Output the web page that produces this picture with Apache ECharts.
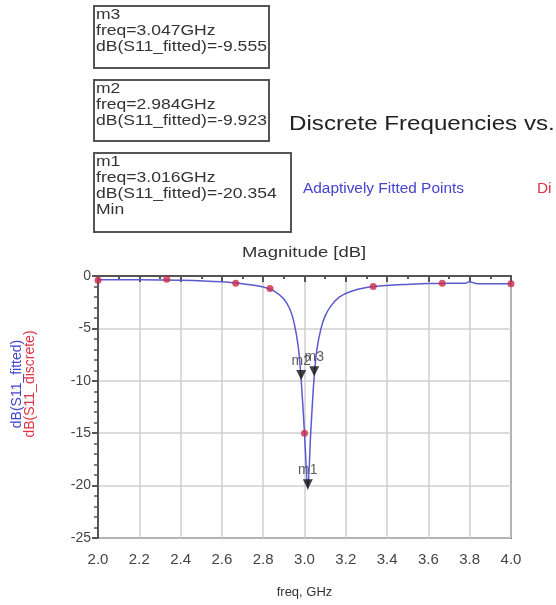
<!DOCTYPE html>
<html>
<head>
<meta charset="utf-8">
<script src="https://cdn.jsdelivr.net/npm/echarts@6/dist/echarts.min.js"></script>
<style>html,body{margin:0;padding:0;background:#fff;}#c{width:556px;height:605px;}</style>
</head>
<body>
<div id="c"></div>
<script>
// Adaptively fitted S11 curve (freq GHz, dB)
const fittedFreq = [2.0, 2.2, 2.4, 2.6, 2.7, 2.8, 2.85, 2.9, 2.93, 2.95, 2.97, 2.984, 3.0, 3.016, 3.03, 3.047, 3.06, 3.08, 3.1, 3.13, 3.17, 3.22, 3.3, 3.4, 3.5, 3.6, 3.7, 3.78, 3.8, 3.83, 3.9, 4.0];
const fittedDb   = [-0.35, -0.35, -0.4, -0.55, -0.75, -1.05, -1.4, -2.2, -3.2, -4.5, -6.8, -9.923, -15.0, -20.354, -15.0, -9.555, -7.0, -5.0, -3.8, -2.8, -2.0, -1.5, -1.1, -0.9, -0.8, -0.72, -0.7, -0.68, -0.55, -0.72, -0.75, -0.75];
// Discrete frequency points
const discreteFreq = [2.0, 2.333, 2.667, 2.833, 3.0, 3.333, 3.667, 4.0];
const discreteDb   = [-0.4, -0.3, -0.7, -1.2, -15.0, -1.0, -0.7, -0.75];
// Markers
const markerNames = ['m3', 'm2', 'm1'];
const markerFreq  = [3.047, 2.984, 3.016];
const markerDb    = [-9.555, -9.923, -20.354];
const markerExtra = ['', '', 'Min'];
// Axis ticks
const xTicks = ['2.0','2.2','2.4','2.6','2.8','3.0','3.2','3.4','3.6','3.8','4.0'];
const yTicks = ['-25','-20','-15','-10','-5','0'];

const FONT = '"Liberation Sans", Arial, sans-serif';
const chart = echarts.init(document.getElementById('c'));

// marker readout boxes
const boxTops = [5, 79, 152];
const boxHeights = [62, 61, 79];
const boxWidths = [175, 175, 197];
const graphics = [];
markerNames.forEach((n, i) => {
  const lines = [n, 'freq=' + markerFreq[i].toFixed(3) + 'GHz', 'dB(S11_fitted)=' + markerDb[i].toFixed(3)];
  if (markerExtra[i]) lines.push(markerExtra[i]);
  graphics.push({
    type: 'rect', left: 93, top: boxTops[i],
    shape: { width: boxWidths[i], height: boxHeights[i] },
    style: { fill: '#fff', stroke: '#555', lineWidth: 2 }
  });
  graphics.push({
    type: 'text', left: 96, top: boxTops[i] + 2, scaleX: 1.17,
    style: { text: lines.join('\n'), font: '15px ' + FONT, fill: '#333', lineHeight: 16 }
  });
});
graphics.push({ type: 'text', left: 289, top: 114, scaleX: 1.15, style: { text: 'Discrete Frequencies vs.', font: '21px ' + FONT, fill: '#222' } });
graphics.push({ type: 'text', left: 303, top: 182, scaleX: 1.1, style: { text: 'Adaptively Fitted Points', font: '14px ' + FONT, fill: '#4444cc' } });
graphics.push({ type: 'text', left: 537, top: 182, scaleX: 1.1, style: { text: 'Di', font: '14px ' + FONT, fill: '#dd3344' } });
graphics.push({ type: 'text', left: 242, top: 245, scaleX: 1.23, style: { text: 'Magnitude [dB]', font: '15px ' + FONT, fill: '#333' } });
// y-axis names (two colours)
graphics.push({ type: 'text', x: 17, y: 384, rotation: Math.PI / 2, style: { text: 'dB(S11_fitted)', font: '14px ' + FONT, fill: '#4444cc', align: 'center', verticalAlign: 'middle' } });
graphics.push({ type: 'text', x: 30, y: 384, rotation: Math.PI / 2, style: { text: 'dB(S11_discrete)', font: '14px ' + FONT, fill: '#dd3344', align: 'center', verticalAlign: 'middle' } });

chart.setOption({
  animation: false,
  backgroundColor: '#fff',
  graphic: graphics,
  grid: { left: 98, right: 45, top: 276, bottom: 67, show: true, borderColor: '#666', borderWidth: 2, backgroundColor: 'transparent' },
  xAxis: {
    type: 'value', min: 2, max: 4, interval: 0.2,
    name: 'freq, GHz', nameLocation: 'middle', nameGap: 48,
    nameTextStyle: { fontFamily: FONT, fontSize: 13, color: '#333' },
    axisLine: { lineStyle: { color: '#555', width: 2 } },
    axisTick: { show: true, length: 6, lineStyle: { color: '#555', width: 2 } },
    minorTick: { show: true, splitNumber: 2, length: 3, lineStyle: { color: '#555', width: 2 } },
    axisLabel: { fontFamily: FONT, fontSize: 15, color: '#444', margin: 14, formatter: v => xTicks[Math.round((v - 2) / 0.2)] },
    splitLine: { show: true, lineStyle: { color: '#cfcfcf', width: 1.5 } }
  },
  yAxis: {
    type: 'value', min: -25, max: 0, interval: 5,
    axisLine: { lineStyle: { color: '#555', width: 2 } },
    axisTick: { show: true, length: 6, lineStyle: { color: '#555', width: 2 } },
    minorTick: { show: true, splitNumber: 5, length: 4, lineStyle: { color: '#555', width: 1.5 } },
    axisLabel: { fontFamily: FONT, fontSize: 14, color: '#444', margin: 7, formatter: v => yTicks[Math.round((v + 25) / 5)] },
    splitLine: { show: true, lineStyle: { color: '#cfcfcf', width: 1.5 } }
  },
  series: [
    {
      name: 'fitted', type: 'line', smooth: 0.3, showSymbol: false,
      data: fittedFreq.map((f, i) => [f, fittedDb[i]]),
      lineStyle: { color: '#5a5ad0', width: 1.5 }, z: 3
    },
    {
      name: 'discrete', type: 'scatter', symbolSize: 7,
      data: discreteFreq.map((f, i) => [f, discreteDb[i]]),
      itemStyle: { color: '#cc2a4a' }, z: 4
    },
    {
      name: 'markers', type: 'scatter', symbol: 'triangle', symbolRotate: 180, symbolSize: [10, 10], symbolOffset: [0, -5],
      data: markerFreq.map((f, i) => ({ value: [f, markerDb[i]], name: markerNames[i] })),
      itemStyle: { color: '#111' },
      label: { show: true, position: 'top', distance: 2, formatter: p => p.name, fontFamily: FONT, fontSize: 14, color: '#333' },
      z: 5
    }
  ]
});
</script>
</body>
</html>
